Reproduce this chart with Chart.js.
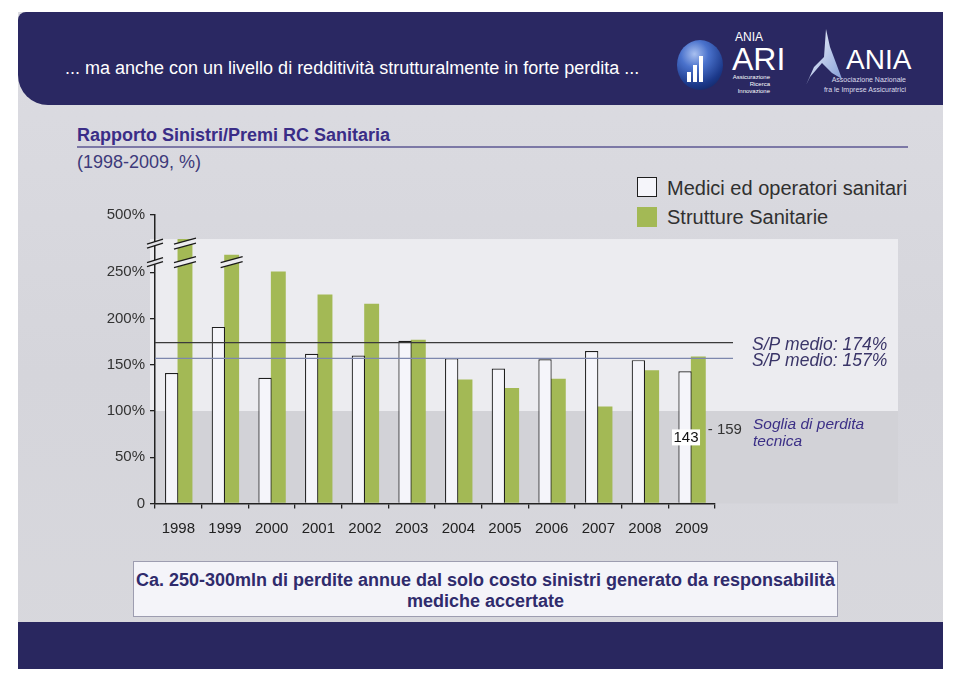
<!DOCTYPE html>
<html><head><meta charset="utf-8">
<script src="https://cdn.jsdelivr.net/npm/chart.js@4.4.1/dist/chart.umd.min.js"></script>
<style>
html,body{margin:0;padding:0;background:#fff;width:960px;height:678px;overflow:hidden;font-family:"Liberation Sans",Arial,sans-serif;}
.abs{position:absolute;}
#slide{left:18px;top:12px;width:925px;height:657px;background:linear-gradient(#dcdce2,#d5d5db 55%,#d8d8dd);}
#header{left:18px;top:12px;width:925px;height:93px;background:#2a2862;border-radius:8px 0 0 30px;}
#htext{left:65px;top:59px;font-size:18px;line-height:18px;color:#fff;white-space:nowrap;}
#footer{left:18px;top:622px;width:925px;height:47px;background:#29275f;}
#title{left:77px;top:126px;font-size:18px;line-height:18px;font-weight:bold;color:#3a2d87;white-space:nowrap;}
#uline{left:77px;top:146px;width:831px;height:1.5px;background:#7c78a6;}
#sub{left:77px;top:153px;font-size:18px;line-height:18px;color:#3d3a7a;white-space:nowrap;}
.lbox{width:20px;height:20px;}
.ltxt{font-size:20px;line-height:20px;color:#303030;white-space:nowrap;}
#note{left:133px;top:561px;width:703px;height:46px;border:1px solid #9d9db0;background:#f4f4f9;text-align:center;font-weight:bold;font-size:18px;line-height:21px;color:#2f2b6c;padding-top:8px;white-space:nowrap;box-sizing:content-box;}
#chart{left:100px;top:200px;}
.w{color:#fff;white-space:nowrap;}
</style></head>
<body>
<div id="slide" class="abs"></div>
<div id="header" class="abs"></div>
<div id="htext" class="abs">... ma anche con un livello di redditività strutturalmente in forte perdita ...</div>
<!-- ARI logo -->
<div class="abs" style="left:677px;top:40px;width:46px;height:50px;border-radius:50%;background:radial-gradient(circle at 38% 28%,#a9c0f0 0%,#4a72cc 30%,#1b3889 68%,#0c1a4a 100%);"></div>
<div class="abs" style="left:687px;top:72px;width:4px;height:10px;background:#fff;"></div>
<div class="abs" style="left:693px;top:65px;width:4px;height:17px;background:#fff;"></div>
<div class="abs" style="left:699px;top:56px;width:4px;height:26px;background:#fff;"></div>
<div class="abs w" style="left:735px;top:31px;font-size:12px;line-height:12px;font-family:'Liberation Sans Narrow','Liberation Sans',sans-serif;">ANIA</div>
<div class="abs w" style="left:732px;top:43px;font-size:32px;line-height:32px;font-family:'Liberation Sans Narrow','Liberation Sans',sans-serif;">ARI</div>
<div class="abs w" style="left:728px;top:74px;width:42px;text-align:right;font-size:6px;line-height:7px;">Assicurazione<br>Ricerca<br>Innovazione</div>
<!-- ANIA logo -->
<svg class="abs" style="left:804px;top:27px;" width="40" height="62" viewBox="0 0 40 62">
<defs><linearGradient id="g1" x1="0" y1="0" x2="1" y2="1"><stop offset="0" stop-color="#ffffff"/><stop offset="1" stop-color="#7f9ad6"/></linearGradient></defs>
<path d="M22 2 L26 20 L38 52 L28 46 L18 36 L6 50 L2 58 L10 40 L20 30 Z" fill="url(#g1)"/>
</svg>
<div class="abs w" style="left:846px;top:46px;font-size:28px;line-height:28px;font-family:'Liberation Sans Narrow','Liberation Sans',sans-serif;">ANIA</div>
<div class="abs w" style="left:806px;top:75px;width:100px;text-align:right;font-size:7px;line-height:10px;color:#dcdcec;">Associazione Nazionale<br>fra le Imprese Assicuratrici</div>

<div id="footer" class="abs"></div>
<div id="title" class="abs">Rapporto Sinistri/Premi RC Sanitaria</div>
<div id="uline" class="abs"></div>
<div id="sub" class="abs">(1998-2009, %)</div>
<div class="abs lbox" id="lb0" style="left:637px;top:177px;box-sizing:border-box;border:1.3px solid #1e1e1e;"></div>
<div class="abs ltxt" id="lt0" style="left:667px;top:178px;"></div>
<div class="abs lbox" id="lb1" style="left:637px;top:207px;"></div>
<div class="abs ltxt" id="lt1" style="left:667px;top:207px;"></div>
<div id="note" class="abs">Ca. 250-300mln di perdite annue dal solo costo sinistri generato da responsabilità<br>mediche accertate</div>
<canvas id="chart" class="abs" width="830" height="345" style="width:830px;height:345px;"></canvas>
<script>
const years = ['1998','1999','2000','2001','2002','2003','2004','2005','2006','2007','2008','2009'];
const seriesNames = ['Medici ed operatori sanitari','Strutture Sanitarie'];
const medici = [141,191,136,162,160,176,157,146,156,165,155,143];
// 1998 and 1999 Strutture bars are drawn on the broken part of the axis (heights as shown)
const strutture = [286,269,251,226,216,177,134,125,135,105,144,159];
const yTickValues = [0,50,100,150,200,250,312];
const yTickLabels = ['0','50%','100%','150%','200%','250%','500%'];
const avgValues = [174,157];
const avgLabels = ['S/P medio: 174%','S/P medio: 157%'];
const threshold = 100;
const thresholdLabel = ['Soglia di perdita','tecnica'];
const axisBreaks = [281,261];
const barBreaks = [[0,[281,261]],[1,[261]]];
const colors = ['#f5f5fa','#a3b955'];

document.getElementById('lt0').textContent = seriesNames[0];
document.getElementById('lt1').textContent = seriesNames[1];
document.getElementById('lb0').style.background = colors[0];
document.getElementById('lb1').style.background = colors[1];

const FONT = '"Liberation Sans", Arial, sans-serif';

function drawBreak(ctx, cx, cy, hw, rise, gap, fill){
  const p1 = [cx-hw, cy+rise/2-gap/2], p2=[cx+hw, cy-rise/2-gap/2];
  const p3 = [cx+hw, cy-rise/2+gap/2], p4=[cx-hw, cy+rise/2+gap/2];
  ctx.save();
  ctx.beginPath(); ctx.moveTo(...p1); ctx.lineTo(...p2); ctx.lineTo(...p3); ctx.lineTo(...p4); ctx.closePath();
  ctx.fillStyle = fill; ctx.fill();
  ctx.strokeStyle = '#1a1a1a'; ctx.lineWidth = 1.3;
  ctx.beginPath(); ctx.moveTo(...p1); ctx.lineTo(...p2); ctx.stroke();
  ctx.beginPath(); ctx.moveTo(...p4); ctx.lineTo(...p3); ctx.stroke();
  ctx.restore();
}

const deco = {
  id:'deco',
  beforeDraw(chart){
    const {ctx, chartArea:a, scales:{y}} = chart;
    const y100 = y.getPixelForValue(threshold), y0 = y.getPixelForValue(0);
    const top = y.getPixelForValue(strutture[0]);
    const right = a.right + 183;
    ctx.save();
    ctx.fillStyle = '#ececf0';
    ctx.fillRect(a.left-5, top, right-(a.left-5), y100-top);
    ctx.fillStyle = '#d2d2d7';
    ctx.fillRect(a.left, y100, right-a.left, y0-y100);
    ctx.restore();
  },
  afterDraw(chart){
    const {ctx, chartArea:a, scales:{y}} = chart;
    ctx.save();
    const lineCols = ['#3a3a3a','#7d87ad'];
    avgValues.forEach((v,i)=>{
      const py = y.getPixelForValue(v);
      ctx.strokeStyle = lineCols[i]; ctx.lineWidth = 1.4;
      ctx.beginPath(); ctx.moveTo(a.left, py); ctx.lineTo(a.right+18, py); ctx.stroke();
      ctx.fillStyle = '#3a3568';
      ctx.font = 'italic 17.5px '+FONT;
      ctx.textAlign = 'left'; ctx.textBaseline = 'alphabetic';
      ctx.fillText(avgLabels[i], a.right+37, py+7.5);
    });
    const y100 = y.getPixelForValue(threshold);
    ctx.fillStyle = '#3b2f86';
    ctx.font = 'italic 15.5px '+FONT;
    ctx.fillText(thresholdLabel[0], a.right+38, y100+18);
    ctx.fillText(thresholdLabel[1], a.right+38, y100+35);
    axisBreaks.forEach(v=>drawBreak(ctx, a.left, y.getPixelForValue(v), 8, 5, 4, '#e2e2e7'));
    const meta = chart.getDatasetMeta(1);
    barBreaks.forEach(([idx, arr])=>{
      const bar = meta.data[idx];
      arr.forEach(v=>drawBreak(ctx, bar.x, y.getPixelForValue(v), 11, 6, 5, '#ececf0'));
    });
    const last = years.length-1;
    const wb = chart.getDatasetMeta(0).data[last];
    const gb = meta.data[last];
    const cy = y.getPixelForValue(medici[last]/2);
    ctx.font = '15px '+FONT;
    ctx.textBaseline = 'middle';
    const t1 = String(medici[last]);
    const tw = ctx.measureText(t1).width;
    ctx.fillStyle = '#ffffff';
    ctx.fillRect(wb.x+1-tw/2-1.5, cy-8, tw+3, 16);
    ctx.fillStyle = '#111';
    ctx.textAlign = 'center';
    ctx.fillText(t1, wb.x+1, cy+0.5);
    ctx.textAlign = 'left';
    ctx.fillStyle = '#333';
    ctx.fillText('- '+strutture[last], gb.x+gb.width/2+2, y.getPixelForValue(strutture[last]/2));
    ctx.restore();
  }
};

new Chart(document.getElementById('chart'), {
  type:'bar',
  data:{
    labels: years,
    datasets:[
      {label:seriesNames[0], data:medici, backgroundColor:colors[0], borderColor:'#1e1e1e', borderWidth:1.2, borderSkipped:'bottom'},
      {label:seriesNames[1], data:strutture, backgroundColor:colors[1], borderWidth:0, barPercentage:1.12}
    ]
  },
  options:{
    responsive:false, animation:false, devicePixelRatio:1,
    layout:{padding:{left:0, top:15, right:215, bottom:0}},
    plugins:{legend:{display:false}, tooltip:{enabled:false}},
    datasets:{bar:{categoryPercentage:0.57, barPercentage:1}},
    scales:{
      x:{
        grid:{drawOnChartArea:false, drawTicks:true, tickLength:5, color:'#222', lineWidth:1.3, offset:true},
        border:{color:'#222', width:1.5},
        ticks:{color:'#222', font:{size:15, family:FONT}, padding:11, maxRotation:0, autoSkip:false},
        afterFit(s){ s.height = 41.5; }
      },
      y:{
        min:0, max:312,
        afterBuildTicks(s){ s.ticks = yTickValues.map(v=>({value:v})); },
        ticks:{color:'#333', font:{size:15, family:FONT}, padding:5, callback:(v,i)=>yTickLabels[i]},
        grid:{drawOnChartArea:false, drawTicks:true, tickLength:5, color:'#222', lineWidth:1.3},
        border:{color:'#222', width:1.5},
        afterFit(s){ s.width = 55; }
      }
    }
  },
  plugins:[deco]
});
</script>
</body></html>
